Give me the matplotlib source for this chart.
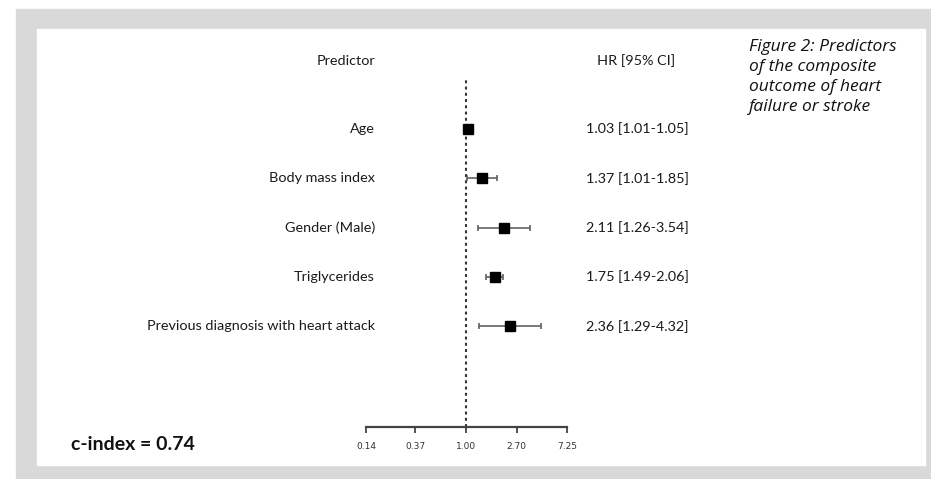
import matplotlib
matplotlib.use('Agg')
import matplotlib.pyplot as plt
from matplotlib.patches import Rectangle
from matplotlib.transforms import blended_transform_factory

# 数据
predictors = ['Age', 'Body mass index', 'Gender (Male)', 'Triglycerides',
              'Previous diagnosis with heart attack']
hr = [1.03, 1.37, 2.11, 1.75, 2.36]
ci_low = [1.01, 1.01, 1.26, 1.49, 1.29]
ci_high = [1.05, 1.85, 3.54, 2.06, 4.32]
tick_values = [0.14, 0.37, 1.00, 2.70, 7.25]
c_index = 0.74
caption = 'Figure 2: Predictors\nof the composite\noutcome of heart\nfailure or stroke'

W, H = 931, 479
fig = plt.figure(figsize=(W / 100, H / 100), dpi=100)

# 背景: 灰色边框 + 白色面板 (像素坐标转成figure比例)
def px_rect(x1, y1, x2, y2, color):
    fig.patches.append(Rectangle((x1 / W, 1 - y2 / H), (x2 - x1) / W, (y2 - y1) / H,
                                 transform=fig.transFigure, color=color, zorder=-10))

px_rect(16, 9, W, H, '#d9d9d9')
px_rect(37, 29, 925, 465, 'white')

# 森林图坐标轴: x为对数刻度, y为行号
ax_left, ax_right, ax_top, ax_bottom = 366, 567, 78, 427
ax = fig.add_axes([ax_left / W, 1 - ax_bottom / H, (ax_right - ax_left) / W, (ax_bottom - ax_top) / H])
ax.set_zorder(5)
ax.patch.set_visible(False)
row0, row_step = 129, 49.3
ax.set_ylim((ax_bottom - row0) / row_step, (ax_top - row0) / row_step)
ax.set_xscale('log')
ax.set_xlim(tick_values[0], tick_values[-1])

ys = list(range(len(predictors)))
for y, m, lo, hi in zip(ys, hr, ci_low, ci_high):
    ax.errorbar(m, y, xerr=[[m - lo], [hi - m]], fmt='none', ecolor='#555555',
                elinewidth=1.1, capsize=2.5, capthick=1.1, zorder=2)
ax.plot(hr, ys, 's', color='black', markersize=6.5, zorder=3)

ax.axvline(1, color='#333333', linestyle=(0, (1.4, 1.6)), linewidth=1.5, zorder=1)

for s in ['top', 'right', 'left']:
    ax.spines[s].set_visible(False)
ax.spines['bottom'].set_color('#444444')
ax.spines['bottom'].set_linewidth(1.6)
ax.set_yticks([])
ax.set_xticks(tick_values)
ax.set_xticklabels([f'{v:.2f}' for v in tick_values])
ax.minorticks_off()
ax.tick_params(axis='x', direction='out', length=4, width=1.3, color='#444444',
               labelsize=6.5, labelcolor='#333333', pad=7)
for lab in ax.get_xticklabels():
    lab.set_family(['Liberation Sans Narrow', 'DejaVu Sans'])

# 左侧变量名 + 右侧HR文字
tr = blended_transform_factory(fig.transFigure, ax.transData)
font = ['Lato', 'DejaVu Sans']
fs = 10.4
txt_color = '#1a1a1a'
head_y = (61 - row0) / row_step
ax.text(375 / W, head_y, 'Predictor', transform=tr, ha='right', va='center',
        fontsize=fs, family=font, color=txt_color)
ax.text(636 / W, head_y, 'HR [95% CI]', transform=tr, ha='center', va='center',
        fontsize=fs, family=font, color=txt_color)
for y, name, m, lo, hi in zip(ys, predictors, hr, ci_low, ci_high):
    ax.text(375 / W, y, name, transform=tr, ha='right', va='center',
            fontsize=fs, family=font, color=txt_color)
    ax.text(586 / W, y, f'{m:.2f} [{lo:.2f}-{hi:.2f}]', transform=tr, ha='left', va='center',
            fontsize=fs, family=font, color=txt_color)

# c-index
fig.text(71 / W, 1 - 445 / H, f'c-index = {c_index:.2f}', ha='left', va='center',
         fontsize=14, family=font, fontweight='bold', color='#111111')

# 图注
fig.text(749 / W, 1 - 39 / H, caption, ha='left', va='top', fontsize=12.5,
         family=['Open Sans', 'DejaVu Sans'], style='italic', color='#111111', linespacing=1.32)

fig.savefig('out.png', dpi=100)
